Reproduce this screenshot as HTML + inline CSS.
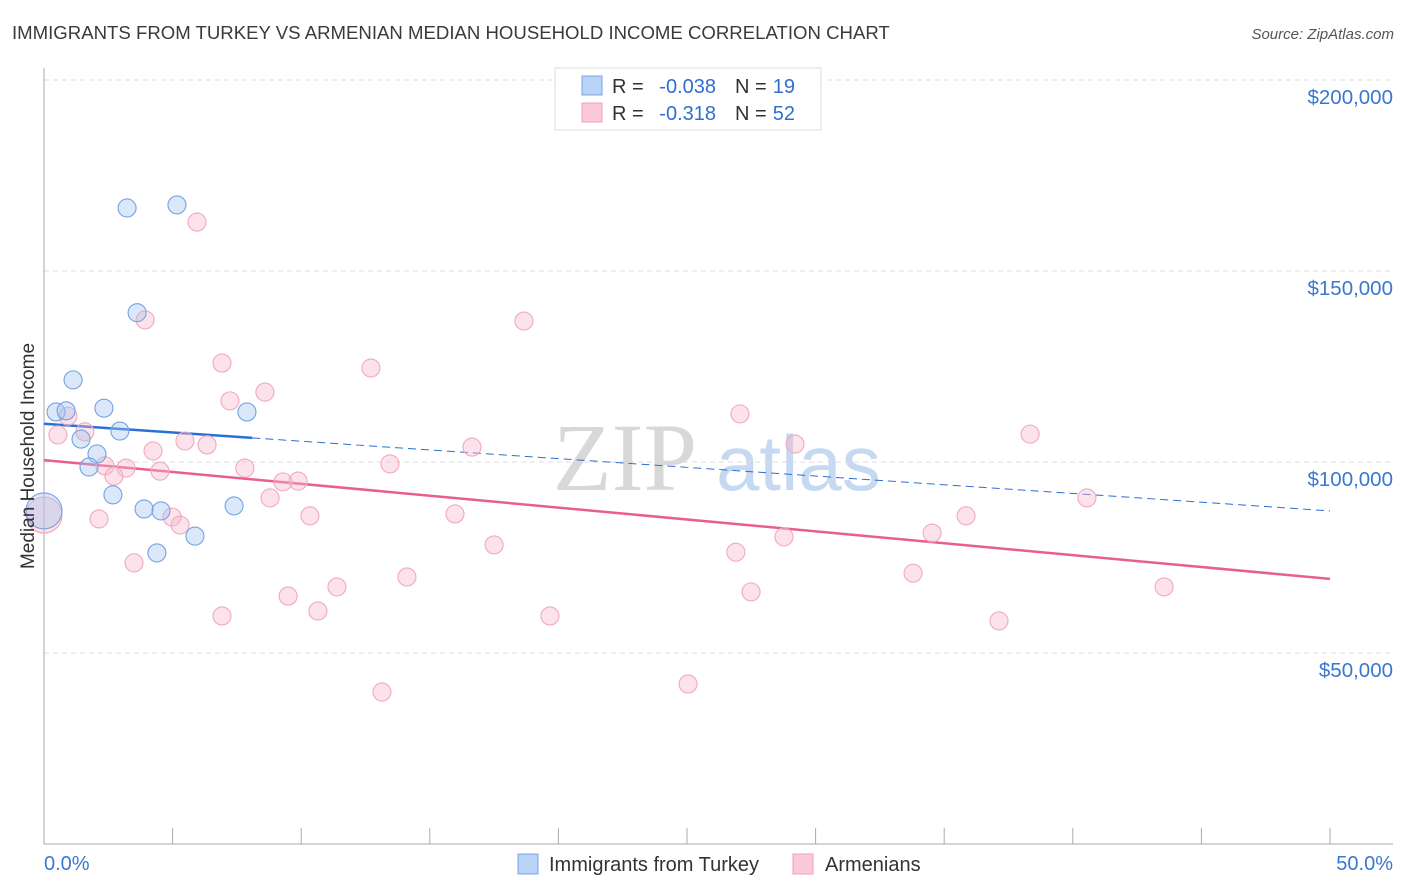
<!DOCTYPE html>
<html><head><meta charset="utf-8"><style>
body{margin:0;background:#fff;font-family:"Liberation Sans",sans-serif}
svg{display:block}
</style></head><body>
<svg id="chart" width="1406" height="892" viewBox="0 0 1406 892" xmlns="http://www.w3.org/2000/svg">
<text x="12" y="39" font-size="18.6" fill="#3a3a3a">IMMIGRANTS FROM TURKEY VS ARMENIAN MEDIAN HOUSEHOLD INCOME CORRELATION CHART</text>
<text x="1394" y="39" font-size="15" fill="#555" text-anchor="end" font-style="italic">Source: ZipAtlas.com</text>
<g>
<text x="553" y="490" font-family="Liberation Serif,serif" font-size="96" fill="#d8d8d8">ZIP</text>
<text x="716" y="490" font-size="78" fill="#c6d9f2">atlas</text>
</g>
<g id="grid"></g>
<g id="axes"></g>
<g id="lines"></g>
<g id="points"></g>
<text transform="translate(34,456) rotate(-90)" text-anchor="middle" font-size="19" fill="#333">Median Household Income</text>
<g>
<rect x="555" y="68" width="266" height="62" fill="#fff" stroke="#ddd"/>
<rect x="582" y="76" width="20" height="19" fill="#b8d3f5" stroke="#7aa6e6"/>
<text x="612" y="93" font-size="20" fill="#333">R =</text>
<text x="716" y="93" font-size="20" fill="#2f6fd0" text-anchor="end">-0.038</text>
<text x="735" y="93" font-size="20" fill="#333">N =</text>
<text x="795" y="93" font-size="20" fill="#2f6fd0" text-anchor="end">19</text>
<rect x="582" y="103" width="20" height="19" fill="#fbc9d8" stroke="#f0a0b8"/>
<text x="612" y="120" font-size="20" fill="#333">R =</text>
<text x="716" y="120" font-size="20" fill="#2f6fd0" text-anchor="end">-0.318</text>
<text x="735" y="120" font-size="20" fill="#333">N =</text>
<text x="795" y="120" font-size="20" fill="#2f6fd0" text-anchor="end">52</text>
</g>
<g>
<rect x="518" y="854" width="20" height="20" fill="#b8d3f5" stroke="#7aa6e6"/>
<text x="549" y="871" font-size="20" fill="#333">Immigrants from Turkey</text>
<rect x="793" y="854" width="20" height="20" fill="#fbc9d8" stroke="#f0a0b8"/>
<text x="825" y="871" font-size="20" fill="#333">Armenians</text>
</g>
</svg>
<script>
const yTicks=[50000,100000,150000,200000];
const yTickLabels=["$50,000","$100,000","$150,000","$200,000"];
const xTickLabels=["0.0%","50.0%"];
const blueX=[3.23,5.17,3.62,1.13,0.47,0.86,2.33,2.95,1.44,2.06,1.75,7.89,2.68,3.89,4.55,7.39,4.39,5.87,0];
const blueY=[166.5,167.3,139.1,121.5,113.1,113.4,114.1,108.1,106.0,102.1,98.7,113.1,91.4,87.7,87.2,88.5,76.2,80.6,87.2];
const blueR=[9,9,9,9,9,9,9,9,9,9,9,9,9,9,9,9,9,9,18];
const pinkX=[5.95,3.93,18.66,6.92,12.71,8.59,7.23,27.06,0.93,0.54,1.59,38.34,29.20,16.64,5.48,6.34,4.24,2.37,3.19,13.45,4.51,7.81,2.72,9.29,9.88,8.79,40.55,2.14,4.98,5.29,10.34,15.98,35.85,34.53,28.77,17.50,26.90,3.50,33.79,14.11,43.55,11.39,27.49,9.49,10.65,6.92,19.67,37.13,25.04,13.14,0];
const pinkY=[162.8,137.2,136.9,125.9,124.6,118.3,116.0,112.6,112.0,107.1,107.9,107.3,104.7,103.9,105.5,104.5,102.9,99.0,98.4,99.5,97.6,98.4,96.3,94.8,95.0,90.6,90.6,85.1,85.6,83.5,85.9,86.4,85.9,81.4,80.4,78.3,76.4,73.6,70.9,69.9,67.3,67.3,66.0,64.9,61.0,59.7,59.7,58.4,41.9,39.8,86.1];
const blueTrend=[110.0,87.2]; const blueSolidEnd=8.1;
const pinkTrend=[100.5,69.4];
const NS="http://www.w3.org/2000/svg";
const X=v=>44+v/50*1286;
const Y=v=>844-v/50000*191;
const Yk=v=>Y(v*1000);
function mk(tag,attrs,parent){const e=document.createElementNS(NS,tag);for(const k in attrs)e.setAttribute(k,attrs[k]);document.getElementById(parent).appendChild(e);return e;}
yTicks.forEach((t,i)=>{
 const g=mk('line',{x1:44,x2:1393,y1:Y(t),y2:Y(t),stroke:'#ddd','stroke-dasharray':'5,4'},'grid');
 
 
 const l=mk('text',{x:1393,y:Y(t)+24,'text-anchor':'end','font-size':20.5,fill:'#3a78d0'},'axes');
 l.textContent=yTickLabels[i];
 
 
});
const ax=mk('line',{x1:44,x2:44,y1:68,y2:844,stroke:'#aaa'},'axes');


const bx=mk('line',{x1:44,x2:1393,y1:844,y2:844,stroke:'#aaa'},'axes');


for(let i=0;i<=10;i++){
 const t=mk('line',{x1:X(i*5),x2:X(i*5),y1:828,y2:844,stroke:'#aaa'},'axes');
 
 
}
const xl0=mk('text',{x:44,y:870,'font-size':20,fill:'#3a78d0'},'axes');xl0.textContent=xTickLabels[0];


const xl1=mk('text',{x:1393,y:870,'font-size':20,fill:'#3a78d0','text-anchor':'end'},'axes');xl1.textContent=xTickLabels[1];


const bAt=x=>blueTrend[0]+(blueTrend[1]-blueTrend[0])*x/50;
const l1=mk('line',{x1:X(0),y1:Yk(bAt(0)),x2:X(blueSolidEnd),y2:Yk(bAt(blueSolidEnd)),stroke:'#2a6fd6','stroke-width':2.5},'lines');


const l2=mk('line',{x1:X(blueSolidEnd),y1:Yk(bAt(blueSolidEnd)),x2:X(50),y2:Yk(bAt(50)),stroke:'#2a6fd6','stroke-width':1,'stroke-dasharray':'8,5'},'lines');


const l3=mk('line',{x1:X(0),y1:Yk(pinkTrend[0]),x2:X(50),y2:Yk(pinkTrend[1]),stroke:'#e8608a','stroke-width':2.5},'lines');


pinkX.forEach((x,i)=>{
 const c=mk('circle',{cx:X(x),cy:Yk(pinkY[i]),r:(i==pinkX.length-1?18:9),fill:'rgba(248,182,202,0.4)',stroke:'#f2a8bf','stroke-width':1.1},'points');
 
 
});
blueX.forEach((x,i)=>{
 const c=mk('circle',{cx:X(x),cy:Yk(blueY[i]),r:blueR[i],fill:'rgba(165,198,240,0.4)',stroke:'#74a2e2','stroke-width':1.1},'points');
 
 
});
</script>
</body></html>
